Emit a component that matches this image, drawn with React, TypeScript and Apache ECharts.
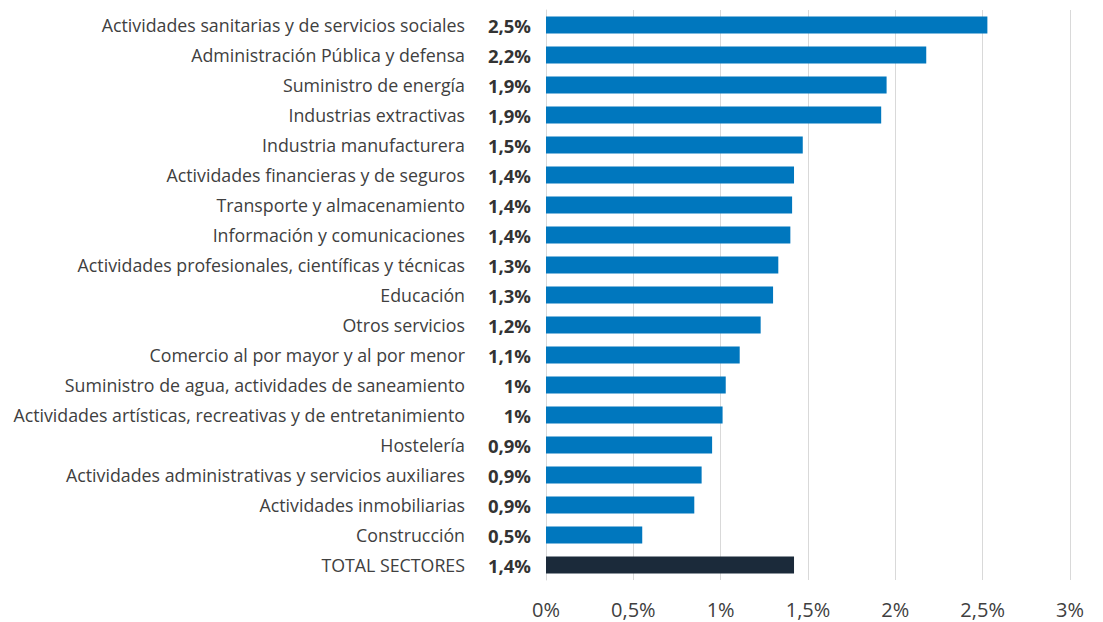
import React, { useEffect, useRef } from "react";
import * as echarts from "echarts";

const categories = [
  "Actividades sanitarias y de servicios sociales",
  "Administración Pública y defensa",
  "Suministro de energía",
  "Industrias extractivas",
  "Industria manufacturera",
  "Actividades financieras y de seguros",
  "Transporte y almacenamiento",
  "Información y comunicaciones",
  "Actividades profesionales, científicas y técnicas",
  "Educación",
  "Otros servicios",
  "Comercio al por mayor y al por menor",
  "Suministro de agua, actividades de saneamiento",
  "Actividades artísticas, recreativas y de entretanimiento",
  "Hostelería",
  "Actividades administrativas y servicios auxiliares",
  "Actividades inmobiliarias",
  "Construcción",
  "TOTAL SECTORES",
];

const values = [
  2.527, 2.177, 1.95, 1.919, 1.47, 1.42, 1.409, 1.399, 1.33, 1.3, 1.229, 1.109,
  1.029, 1.011, 0.951, 0.891, 0.849, 0.551, 1.42,
];

const valueLabels = [
  "2,5%", "2,2%", "1,9%", "1,9%", "1,5%", "1,4%", "1,4%", "1,4%", "1,3%", "1,3%",
  "1,2%", "1,1%", "1%", "1%", "0,9%", "0,9%", "0,9%", "0,5%", "1,4%",
];

const xTicks = ["0%", "0,5%", "1%", "1,5%", "2%", "2,5%", "3%"];

const BLUE = "#0077BE";
const NAVY = "#1B2A3A";
const TEXT = "#404040";
const FONT = "'Open Sans', 'Noto Sans', sans-serif";

export default function App() {
  const ref = useRef<HTMLDivElement>(null);
  useEffect(() => {
    if (!ref.current) return;
    const chart = echarts.init(ref.current, null, { renderer: "svg" });
    chart.setOption({
      animation: false,
      grid: { left: 546, right: 33, top: 10, bottom: 42, containLabel: false },
      xAxis: {
        type: "value",
        min: 0,
        max: 3,
        interval: 0.5,
        axisLine: { show: false },
        axisTick: { show: false },
        splitLine: { show: true, lineStyle: { color: "#D9D9D9", width: 1 } },
        axisLabel: {
          color: TEXT,
          fontSize: 20,
          fontFamily: FONT,
          margin: 19,
          formatter: (v: number) => xTicks[Math.round(v / 0.5)] ?? "",
        },
      },
      yAxis: [
        {
          type: "category",
          data: categories,
          inverse: true,
          position: "left",
          axisLine: { show: true, lineStyle: { color: "#D9D9D9" } },
          axisTick: { show: false },
          axisLabel: {
            color: TEXT,
            fontSize: 17.8,
            fontFamily: FONT,
            margin: 81,
          },
        },
        {
          type: "category",
          data: valueLabels,
          inverse: true,
          position: "left",
          offset: 0,
          axisLine: { show: false },
          axisTick: { show: false },
          axisLabel: {
            color: "#333333",
            fontSize: 18.5,
            fontWeight: "bold",
            fontFamily: FONT,
            margin: 15,
          },
        },
      ],
      series: [
        {
          type: "bar",
          yAxisIndex: 0,
          barWidth: 17,
          data: values.map((v, i) => ({
            value: v,
            itemStyle: { color: i === values.length - 1 ? NAVY : BLUE },
          })),
        },
      ],
    });
    return () => chart.dispose();
  }, []);
  return (
    <div
      ref={ref}
      style={{ position: "absolute", left: 0, top: 0, width: 1103, height: 622 }}
    />
  );
}
